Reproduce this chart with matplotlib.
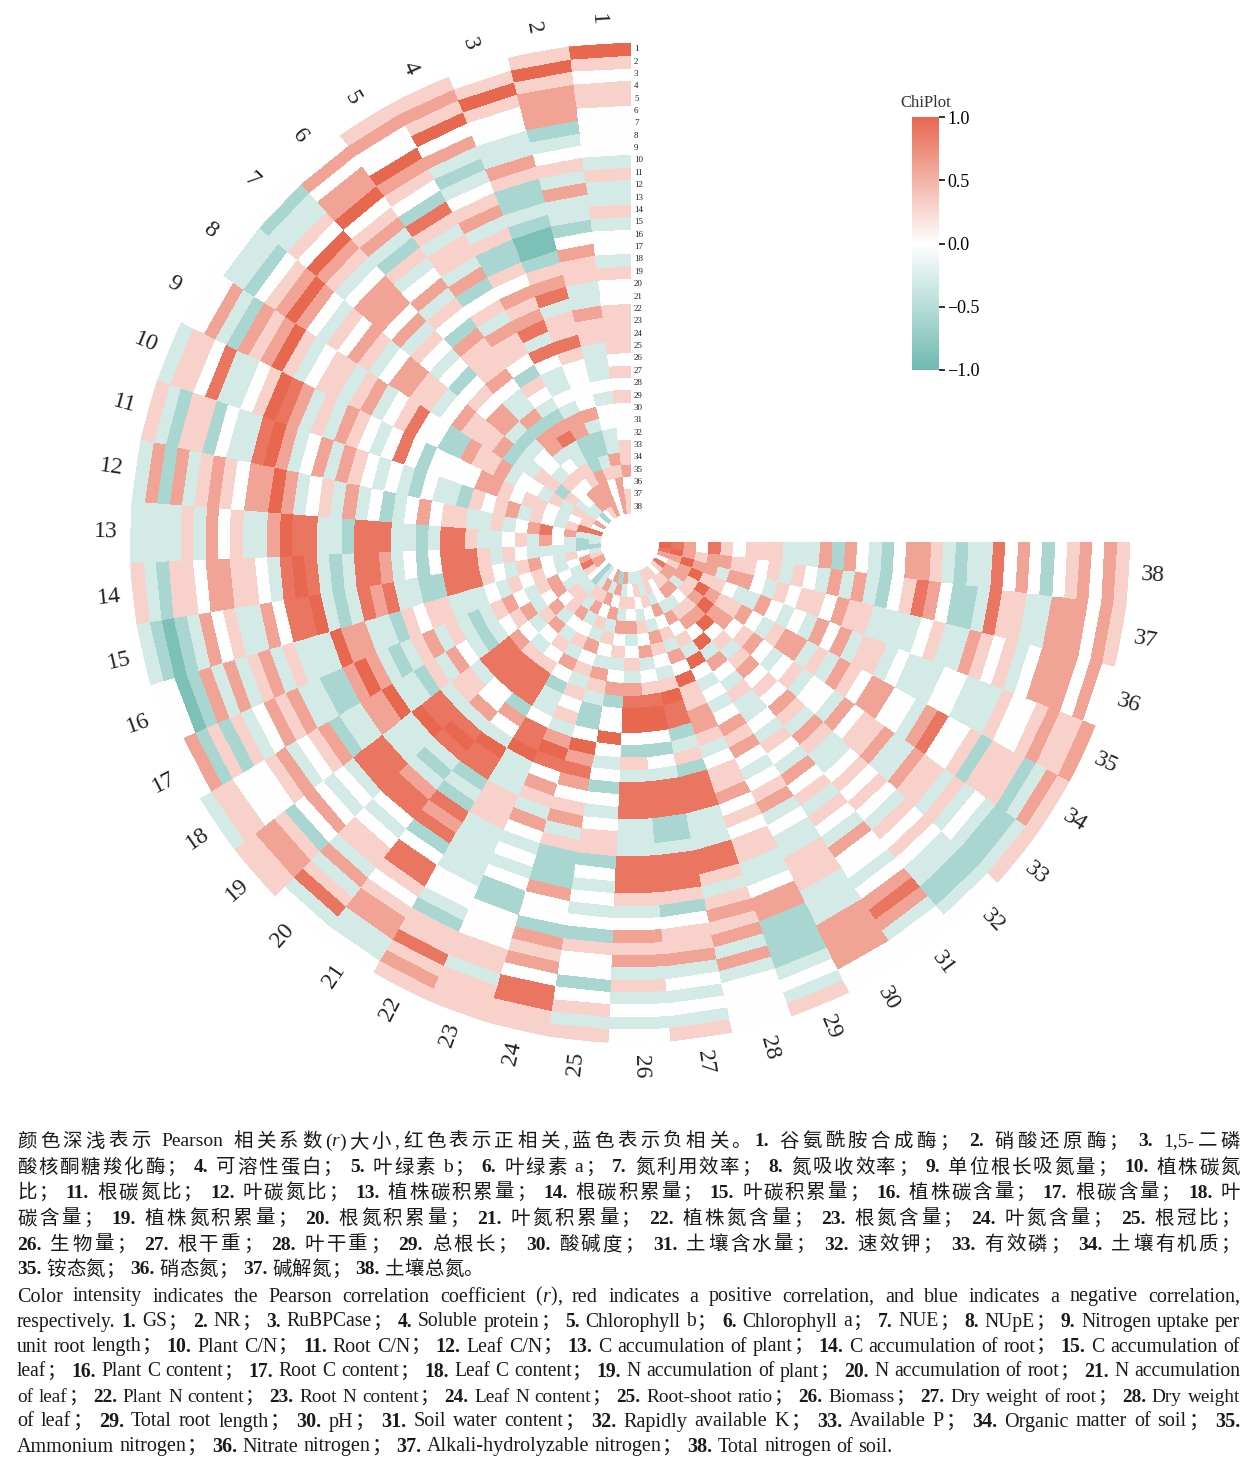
import re
import numpy as np
import matplotlib
matplotlib.use('Agg')
import matplotlib.pyplot as plt
from matplotlib.colors import LinearSegmentedColormap

# ================= data =================
N = 38
SECTOR_LABELS = [str(k) for k in range(1, N + 1)]
RING_LABELS = [str(k) for k in range(1, N + 1)]

# upper triangle of the Pearson matrix, row i -> variables i+1..38
# level digits 0..8  ->  r = -1 .. 1  (4 = 0)
UPPER = [
    "5455444435" "3353443544" "5555454544" "4556455",
    "5666234536" "3324655336" "5533343443" "365666",
    "5443365223" "2112567355" "7544446322" "35444",
    "4632345635" "2254656737" "4334366222" "6666",
    "6542753553" "6245365542" "5432673355" "665",
    "4563253463" "5426555643" "3626634546" "64",
    "6534666463" "5434245466" "3234435443" "2",
    "6435465346" "6553465556" "2335525334",
    "5345535634" "5744226556" "344353556",
    "7635365434" "7424444665" "45543454",
    "6346365434" "3243325456" "3543577",
    "6345363423" "4645533534" "674633",
    "7733277733" "2377533453" "64323",
    "7323776342" "4777535433" "3322",
    "3237673322" "7775435643" "543",
    "6633254553" "3343545434" "65",
    "6323563532" "3564356437" "6",
    "3325364323" "4563463356",
    "7735537776" "435645344",
    "7364477753" "46355322",
    "3462777545" "3463533",
    "7743324635" "436564",
    "6354535463" "54636",
    "42235634536462",
    "4426435463536",
    "876354364543",
    "75436453453",
    "5345634533",
    "463546355",
    "35463445",
    "4653655",
    "654654",
    "65365",
    "5667",
    "654",
    "66",
    "7",
]

CN_LINES = [
    "颜色深浅表示 Pearson 相关系数(r)大小,红色表示正相关,蓝色表示负相关。1. 谷氨酰胺合成酶； 2. 硝酸还原酶； 3. 1,5-二磷",
    "酸核酮糖羧化酶； 4. 可溶性蛋白； 5. 叶绿素 b； 6. 叶绿素 a； 7. 氮利用效率； 8. 氮吸收效率； 9. 单位根长吸氮量； 10. 植株碳氮",
    "比； 11. 根碳氮比； 12. 叶碳氮比； 13. 植株碳积累量； 14. 根碳积累量； 15. 叶碳积累量； 16. 植株碳含量； 17. 根碳含量； 18. 叶",
    "碳含量； 19. 植株氮积累量； 20. 根氮积累量； 21. 叶氮积累量； 22. 植株氮含量； 23. 根氮含量； 24. 叶氮含量； 25. 根冠比；",
    "26. 生物量； 27. 根干重； 28. 叶干重； 29. 总根长； 30. 酸碱度； 31. 土壤含水量； 32. 速效钾； 33. 有效磷； 34. 土壤有机质；",
    "35. 铵态氮； 36. 硝态氮； 37. 碱解氮； 38. 土壤总氮。",
]
EN_LINES = [
    "Color intensity indicates the Pearson correlation coefficient (r), red indicates a positive correlation, and blue indicates a negative correlation,",
    "respectively. 1. GS； 2. NR； 3. RuBPCase； 4. Soluble protein； 5. Chlorophyll b； 6. Chlorophyll a； 7. NUE； 8. NUpE； 9. Nitrogen uptake per",
    "unit root length； 10. Plant C/N； 11. Root C/N； 12. Leaf C/N； 13. C accumulation of plant； 14. C accumulation of root； 15. C accumulation of",
    "leaf； 16. Plant C content； 17. Root C content； 18. Leaf C content； 19. N accumulation of plant； 20. N accumulation of root； 21. N accumulation",
    "of leaf； 22. Plant N content； 23. Root N content； 24. Leaf N content； 25. Root-shoot ratio； 26. Biomass； 27. Dry weight of root； 28. Dry weight",
    "of leaf； 29. Total root length； 30. pH； 31. Soil water content； 32. Rapidly available K； 33. Available P； 34. Organic matter of soil； 35.",
    "Ammonium nitrogen； 36. Nitrate nitrogen； 37. Alkali-hydrolyzable nitrogen； 38. Total nitrogen of soil.",
]

# ================= layout =================
W, H = 1250, 1468
CX, CY = 630, 543          # centre of the ring chart (px)
R_OUT, R_IN = 500, 30
SERIF = ['Liberation Serif', 'Noto Sans CJK SC']
GAIN = 1.2                 # level -> r scaling

M = np.eye(N)
for i, row in enumerate(UPPER):
    assert len(row) == N - 1 - i, (i, len(row))
    for k, c in enumerate(row):
        j = i + 1 + k
        M[i, j] = M[j, i] = np.clip((int(c) - 4) / 4 * GAIN, -1, 1)

cmap = LinearSegmentedColormap.from_list('chi', ['#6fbab1', '#ffffff', '#e8674f'])

fig = plt.figure(figsize=(W / 100, H / 100), dpi=100)
ax = fig.add_axes([(CX - R_OUT) / W, 1 - (CY + R_OUT) / H, 2 * R_OUT / W, 2 * R_OUT / H],
                  projection='polar')

step = 270 / N
theta = np.deg2rad(90 + np.arange(N + 1) * step)
ring_w = (R_OUT - R_IN) / N
r_edges = R_IN + np.arange(N + 1) * ring_w
# ring 1 is the outermost -> flip rows
mesh = ax.pcolormesh(theta, r_edges, M[::-1, :], cmap=cmap, vmin=-1, vmax=1,
                     shading='flat', edgecolor='face', linewidth=0.2)
ax.set_ylim(0, R_OUT)
ax.axis('off')

# sector labels round the outside
for j, lab in enumerate(SECTOR_LABELS):
    ang = 90 + (j + 0.5) * step
    rot = ang - 180 if 90 < ang < 270 else ang
    ax.text(np.deg2rad(ang), R_OUT + 24, lab, rotation=rot, rotation_mode='anchor',
            ha='center', va='center', fontsize=17, family=SERIF, color='#222222')

# ring labels along the vertical edge
for k, lab in enumerate(RING_LABELS):
    rk = R_OUT - (k + 0.5) * ring_w
    fig.text(634 / W, 1 - (CY - rk) / H, lab, ha='left', va='center',
             fontsize=6.5, family=SERIF, color='#222222')

# colour bar
cax = fig.add_axes([912 / W, 1 - 370 / H, 27 / W, 253 / H])
cb = fig.colorbar(mesh, cax=cax, ticks=[-1, -0.5, 0, 0.5, 1])
cb.ax.set_yticklabels(['\u22121.0', '\u22120.5', '0.0', '0.5', '1.0'],
                      fontsize=13, family=SERIF)
cb.outline.set_visible(False)
cb.ax.tick_params(length=4, width=1.3, color='#222222', pad=2)
cax.set_title('ChiPlot', fontsize=12, family=SERIF, color='#333333', pad=7)


# ================= caption (justified, bold numbers) =================
def is_cjk(ch):
    return ord(ch) >= 0x2E80


def split_word(w):
    # latin runs stay together, every CJK sign stands alone
    out, buf = [], ''
    for ch in w:
        if is_cjk(ch):
            if buf:
                out.append(buf)
                buf = ''
            out.append(ch)
        else:
            buf += ch
    if buf:
        out.append(buf)
    return out


def parse(line):
    # items: (text, style, gap) gap 0 none, 1 soft (between CJK signs), 2 space
    items = []
    gap = 0
    for part in re.split(r'(\d+\.(?=\s|$)|\(r\))', line):
        if not part:
            continue
        if re.fullmatch(r'\d+\.', part):
            items.append((part, 'bold', gap))
            gap = 1
        elif part == '(r)':
            items += [('(', 'normal', gap), ('r', 'italic', 0), (')', 'normal', 0)]
            gap = 1
        else:
            for n, w in enumerate(part.split(' ')):
                if n > 0:
                    gap = 2
                for p in split_word(w):
                    items.append((p, 'normal', gap))
                    gap = 1
    # soft gaps only next to CJK signs
    fixed = []
    for n, (s, st, g) in enumerate(items):
        if g == 1:
            prev = items[n - 1][0] if n else ''
            if not (is_cjk(s[0]) or (prev and is_cjk(prev[-1]))):
                g = 0
        fixed.append((s, st, g if n else 0))
    return fixed


renderer = fig.canvas.get_renderer()
X0, X1 = 17, 1240


def draw_line(line, y_px, size, justify):
    items = parse(line)
    while True:
        texts = []
        for s, st, g in items:
            t = fig.text(0, 1 - y_px / H, s, fontsize=size, family=SERIF, va='center', ha='left',
                         weight='bold' if st == 'bold' else 'normal',
                         style='italic' if st == 'italic' else 'normal', color='#1a1a1a')
            texts.append(t)
        widths = [t.get_window_extent(renderer).width for t in texts]
        space = 0.27 * size * 100 / 72
        n_sp = sum(1 for it in items if it[2] == 2)
        n_soft = sum(1 for it in items if it[2] == 1)
        natural = sum(widths) + n_sp * space
        if natural > X1 - X0 and size > 9:
            for t in texts:
                t.remove()
            size -= 0.2
            continue
        break
    slots = n_sp * 1.5 + n_soft
    extra = (X1 - X0 - natural) / slots if (justify and slots) else 0
    x = X0
    for t, w, it in zip(texts, widths, items):
        if it[2] == 2:
            x += space + 1.5 * extra
        elif it[2] == 1:
            x += extra
        t.set_x(x / W)
        x += w


cn_y = [1142, 1168, 1193, 1219, 1245, 1270]
en_y = [1297, 1322, 1347, 1372, 1397, 1422, 1447]
for n, (line, y) in enumerate(zip(CN_LINES, cn_y)):
    draw_line(line, y, 14, n < len(CN_LINES) - 1)
for n, (line, y) in enumerate(zip(EN_LINES, en_y)):
    draw_line(line, y, 14.5, n < len(EN_LINES) - 1)

fig.savefig('out.png', dpi=100, facecolor='white')
